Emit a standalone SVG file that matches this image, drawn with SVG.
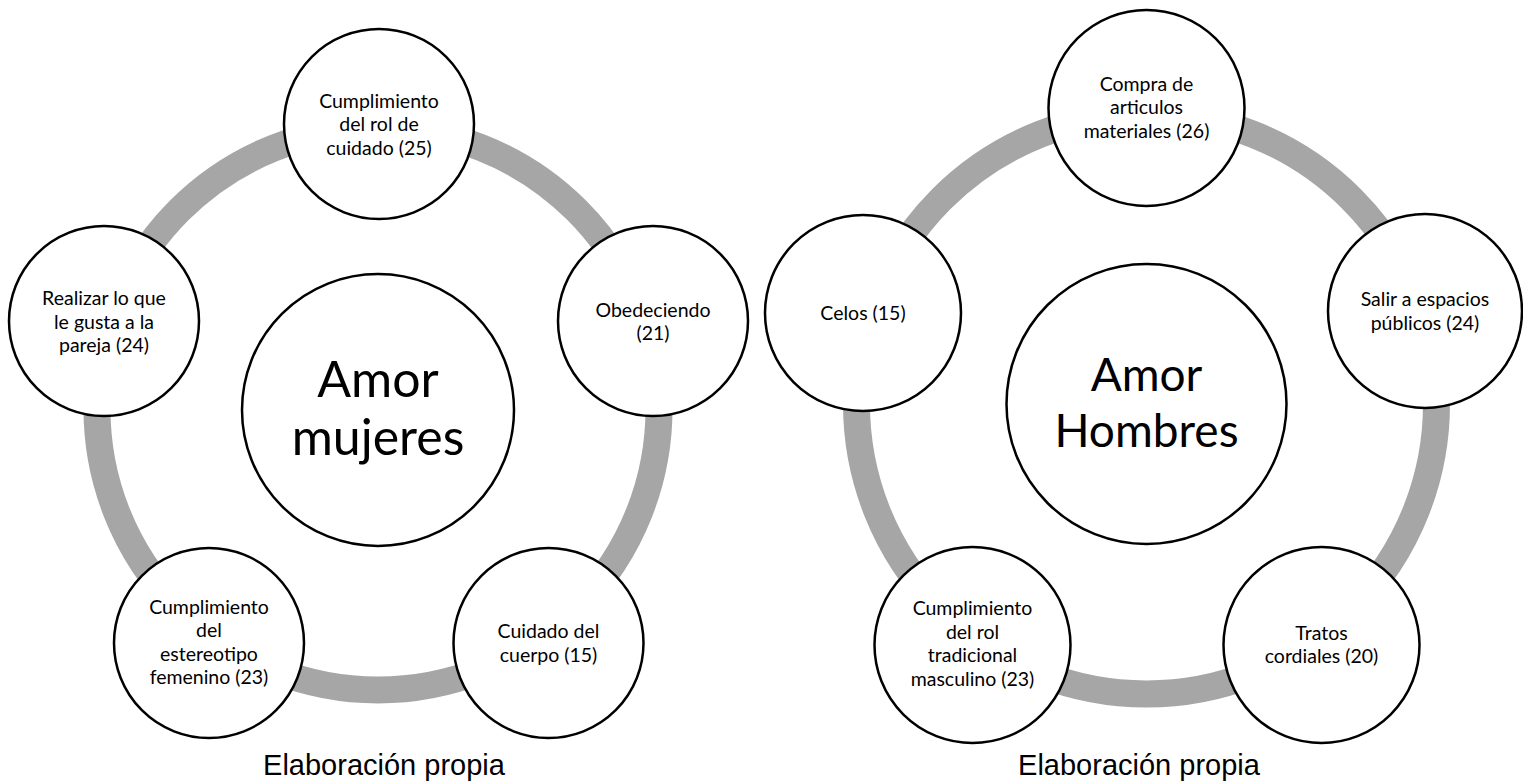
<svg xmlns="http://www.w3.org/2000/svg" width="1523" height="782" viewBox="0 0 1523 782">
  <style>
    .ring { fill: none; stroke: #a6a6a6; stroke-width: 27; }
    .node { fill: #ffffff; stroke: #000000; stroke-width: 2.5; }
    .lbl { font-family: Lato, "Liberation Sans", sans-serif; font-size: 19.5px; fill: #000000; text-anchor: middle; }
    .hub { font-family: Lato, "Liberation Sans", sans-serif; font-size: 50px; fill: #000000; text-anchor: middle; }
    .hub-sm { font-size: 46px; }
    .cap { font-family: "Liberation Sans", Arial, sans-serif; font-size: 29px; fill: #000000; text-anchor: middle; }
  </style>

  <!-- cycle rings behind the nodes -->
  <g id="connectors">
    <circle class="ring" cx="378" cy="409" r="281"/>
    <circle class="ring" cx="1146.5" cy="404" r="290"/>
  </g>

  <!-- women's cycle -->
  <g id="hub-mujeres">
    <circle class="node" cx="378" cy="410" r="136"/>
    <text class="hub" x="378" y="397">Amor</text>
    <text class="hub" x="378" y="455">mujeres</text>
  </g>
  <g id="node-cuidado">
    <circle class="node" cx="379" cy="124" r="95"/>
    <text class="lbl" x="379" y="107.5">Cumplimiento</text>
    <text class="lbl" x="379" y="131">del rol de</text>
    <text class="lbl" x="379" y="154.5">cuidado (25)</text>
  </g>
  <g id="node-obedeciendo">
    <circle class="node" cx="653" cy="321" r="95"/>
    <text class="lbl" x="653" y="316.5">Obedeciendo</text>
    <text class="lbl" x="653" y="340">(21)</text>
  </g>
  <g id="node-cuerpo">
    <circle class="node" cx="548.5" cy="643" r="95"/>
    <text class="lbl" x="548.5" y="638">Cuidado del</text>
    <text class="lbl" x="548.5" y="661.5">cuerpo (15)</text>
  </g>
  <g id="node-estereotipo">
    <circle class="node" cx="209" cy="643" r="95"/>
    <text class="lbl" x="209" y="614">Cumplimiento</text>
    <text class="lbl" x="209" y="637">del</text>
    <text class="lbl" x="209" y="660.5">estereotipo</text>
    <text class="lbl" x="209" y="684">femenino (23)</text>
  </g>
  <g id="node-pareja">
    <circle class="node" cx="104" cy="321" r="95"/>
    <text class="lbl" x="104" y="305">Realizar lo que</text>
    <text class="lbl" x="104" y="328.5">le gusta a la</text>
    <text class="lbl" x="104" y="352">pareja (24)</text>
  </g>
  <text id="caption-mujeres" class="cap" x="384" y="775">Elaboración propia</text>

  <!-- men's cycle -->
  <g id="hub-hombres">
    <circle class="node" cx="1146.5" cy="404" r="140"/>
    <text class="hub hub-sm" x="1146.5" y="391">Amor</text>
    <text class="hub hub-sm" x="1146.5" y="447">Hombres</text>
  </g>
  <g id="node-articulos">
    <circle class="node" cx="1146.5" cy="108" r="98"/>
    <text class="lbl" x="1146.5" y="90.5">Compra de</text>
    <text class="lbl" x="1146.5" y="114">articulos</text>
    <text class="lbl" x="1146.5" y="137.5">materiales (26)</text>
  </g>
  <g id="node-espacios">
    <circle class="node" cx="1425" cy="311" r="97"/>
    <text class="lbl" x="1425" y="306">Salir a espacios</text>
    <text class="lbl" x="1425" y="329.5">públicos (24)</text>
  </g>
  <g id="node-tratos">
    <circle class="node" cx="1321.5" cy="645" r="98"/>
    <text class="lbl" x="1321.5" y="639.5">Tratos</text>
    <text class="lbl" x="1321.5" y="663">cordiales (20)</text>
  </g>
  <g id="node-masculino">
    <circle class="node" cx="972.5" cy="645" r="98"/>
    <text class="lbl" x="972.5" y="615">Cumplimiento</text>
    <text class="lbl" x="972.5" y="638.5">del rol</text>
    <text class="lbl" x="972.5" y="662">tradicional</text>
    <text class="lbl" x="972.5" y="685.5">masculino (23)</text>
  </g>
  <g id="node-celos">
    <circle class="node" cx="863" cy="313" r="98"/>
    <text class="lbl" x="863" y="320">Celos (15)</text>
  </g>
  <text id="caption-hombres" class="cap" x="1139" y="775">Elaboración propia</text>
</svg>
